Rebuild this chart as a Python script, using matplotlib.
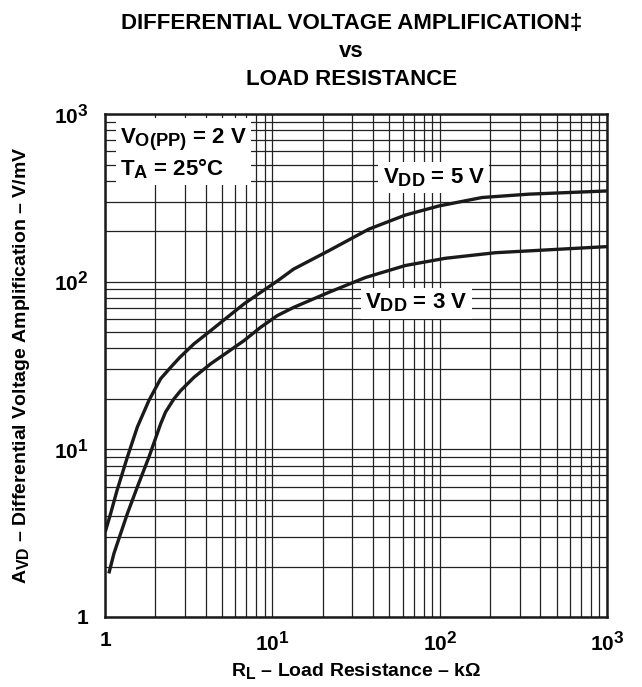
import matplotlib
matplotlib.use("Agg")
import matplotlib.pyplot as plt
import matplotlib._mathtext as mtext

# datasheet style: subscripts / superscripts only slightly smaller
mtext.SHRINK_FACTOR = 0.82

plt.rcParams["font.family"] = ["Liberation Sans", "DejaVu Sans"]
plt.rcParams["font.weight"] = "bold"
plt.rcParams["mathtext.fontset"] = "custom"
plt.rcParams["mathtext.rm"] = "Liberation Sans:bold"
plt.rcParams["mathtext.it"] = "Liberation Sans:bold"
plt.rcParams["mathtext.bf"] = "Liberation Sans:bold"

# --- Data ---
rl_5v = [1.01, 1.08, 1.18, 1.36, 1.56, 1.83, 2.15, 2.47, 2.8, 3.4, 4.28,
         5.37, 6.76, 8.51, 10.7, 13.4, 21.7, 37.7, 62.4, 98.6, 179.0,
         340.0, 1000.0]
avd_5v = [3.3, 4.14, 5.7, 9.0, 13.6, 19.6, 26.4, 30.9, 35.4, 42.6, 51.1,
          61.3, 73.7, 86.4, 101.0, 119.0, 153.0, 206.0, 250.0, 283.0, 318.0,
          333.0, 348.0]

rl_3v = [1.06, 1.13, 1.24, 1.36, 1.56, 1.83, 2.15, 2.3, 2.58, 2.83, 3.4,
         4.28, 5.37, 6.76, 8.51, 10.7, 13.4, 21.7, 36.0, 62.4, 108.0,
         215.0, 1000.0]
avd_3v = [1.86, 2.39, 3.15, 4.14, 5.97, 9.0, 14.2, 16.7, 20.0, 22.4, 26.9,
          32.4, 37.9, 44.5, 53.5, 62.8, 70.3, 86.4, 106.0, 125.0, 138.0,
          149.0, 162.0]

x_ticks = [1, 10, 100, 1000]
x_ticklabels = ["1", "$10^{1}$", "$10^{2}$", "$10^{3}$"]
y_ticks = [1, 10, 100, 1000]
y_ticklabels = ["1", "$10^{1}$", "$10^{2}$", "$10^{3}$"]

# --- Plot ---
fig = plt.figure(figsize=(6.42, 6.87), dpi=100)
ax = fig.add_axes([0.1636, 0.1019, 0.782, 0.732])

ax.plot(rl_5v, avd_5v, color="#1a1a1a", linewidth=2.4, zorder=3)
ax.plot(rl_3v, avd_3v, color="#1a1a1a", linewidth=2.4, zorder=3)

ax.set_xscale("log")
ax.set_yscale("log")
ax.set_xlim(1, 1000)
ax.set_ylim(1, 1000)

ax.grid(True, which="both", color="#222222", linewidth=0.9)
ax.set_axisbelow(True)
for s in ax.spines.values():
    s.set_linewidth(1.8)
    s.set_color("#1a1a1a")

ax.set_xticks(x_ticks)
ax.set_xticklabels(x_ticklabels)
ax.set_yticks(y_ticks)
ax.set_yticklabels(y_ticklabels)
ax.tick_params(which="both", length=0, labelsize=15)
ax.tick_params(axis="x", pad=10)
ax.tick_params(axis="y", pad=12)

# x label placed by hand so the subscript stays inside the figure
fig.text(0.555, 0.024, "$R_L$ – Load Resistance – kΩ", ha="center",
         va="center", fontsize=14, fontweight="bold")
ax.set_ylabel("$A_{VD}$ – Differential Voltage Amplification – V/mV",
              fontsize=14, fontweight="bold", labelpad=16)

fig.text(0.547, 0.966, "DIFFERENTIAL VOLTAGE AMPLIFICATION‡", ha="center",
         va="center", fontsize=16, fontweight="bold")
fig.text(0.547, 0.925, "vs", ha="center", va="center", fontsize=16,
         fontweight="bold")
fig.text(0.547, 0.885, "LOAD RESISTANCE", ha="center", va="center",
         fontsize=16, fontweight="bold")

box = dict(facecolor="white", edgecolor="none", pad=3)
ax.text(0.030, 0.975, "$V_{O(PP)}$ = 2 V\n$T_A$ = 25°C", transform=ax.transAxes,
        ha="left", va="top", fontsize=16, fontweight="bold", bbox=box,
        linespacing=1.15, zorder=4)
ax.text(0.655, 0.873, "$V_{DD}$ = 5 V", transform=ax.transAxes, ha="center",
        va="center", fontsize=16, fontweight="bold", bbox=box, zorder=4)
ax.text(0.62, 0.624, "$V_{DD}$ = 3 V", transform=ax.transAxes, ha="center",
        va="center", fontsize=16, fontweight="bold", bbox=box, zorder=4)

fig.savefig("out.png", dpi=100)
plt.close(fig)
